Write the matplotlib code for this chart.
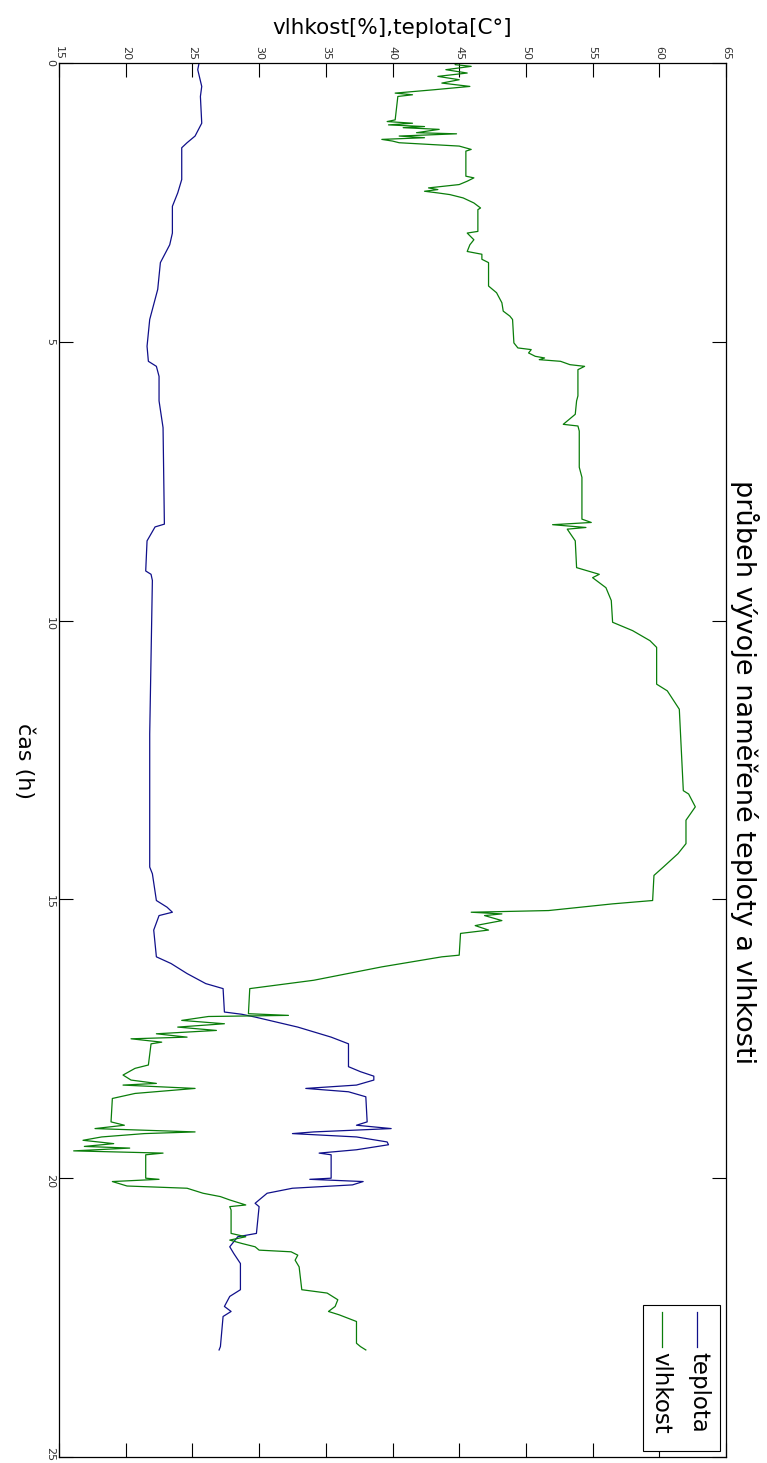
import matplotlib
matplotlib.use("Agg")
import matplotlib.pyplot as plt
import matplotlib.transforms as mtransforms
from matplotlib.patches import Rectangle
from matplotlib.lines import Line2D

plt.rcParams['font.family'] = ['DejaVu Sans']

# time axis (h) and temperature reading
t_teplota = [0.00, 0.12, 0.42, 0.60, 1.08, 1.31, 1.43, 1.52, 2.09, 2.33, 2.57, 3.05, 3.26, 3.58,
             4.06, 4.60, 5.08, 5.35, 5.44, 5.62, 6.06, 6.54, 8.27, 8.32, 8.57, 9.11, 9.17, 9.28,
             12.03, 14.42, 14.54, 15.02, 15.14, 15.23, 15.29, 15.55, 16.03, 16.15, 16.33, 16.51,
             16.60, 17.02, 17.06, 17.11, 17.29, 17.47, 17.59, 18.00, 18.09, 18.17, 18.24, 18.33,
             18.39, 18.45, 18.54, 18.99, 19.05, 19.11, 19.17, 19.20, 19.26, 19.35, 19.40, 19.49,
             19.55, 19.58, 20.00, 20.02, 20.06, 20.12, 20.18, 20.27, 20.39, 20.45, 20.51, 20.99,
             21.05, 21.14, 21.23, 21.35, 21.53, 22.00, 22.12, 22.30, 22.39, 22.48, 23.02, 23.08]
teplota = [25.5, 25.4, 25.7, 25.6, 25.7, 25.2, 24.6, 24.2, 24.2, 23.9, 23.5, 23.5, 23.3, 22.6,
           22.4, 21.8, 21.6, 21.7, 22.3, 22.5, 22.5, 22.8, 22.9, 22.2, 21.6, 21.5, 21.9, 22.0,
           21.8, 21.8, 22.0, 22.3, 23.1, 23.5, 22.5, 22.1, 22.3, 23.4, 24.6, 26.0,
           27.3, 27.4, 28.7, 29.7, 32.9, 35.4, 36.7, 36.7, 37.6, 38.6, 38.6, 37.3,
           33.5, 36.7, 38.0, 38.1, 37.3, 39.9, 34.1, 32.5, 37.3, 39.6, 39.7, 37.3,
           34.5, 35.4, 35.4, 33.8, 37.8, 37.0, 32.5, 30.6, 30.0, 29.7, 30.0, 29.8,
           28.4, 28.1, 27.8, 28.1, 28.6, 28.6, 27.8, 27.4, 27.9, 27.3, 27.1, 27.0]

# time axis (h) and humidity reading
t_vlhkost = [0.00, 0.03, 0.06, 0.12, 0.18, 0.24, 0.30, 0.36, 0.42, 0.48, 0.54, 0.57, 0.60, 1.02,
             1.05, 1.08, 1.11, 1.14, 1.16, 1.19, 1.25, 1.27, 1.31, 1.34, 1.37, 1.40, 1.43, 1.49,
             1.55, 1.58, 2.03, 2.06, 2.12, 2.18, 2.24, 2.27, 2.30, 2.33, 2.36, 2.42, 2.51, 2.60,
             2.63, 3.02, 3.05, 3.17, 3.26, 3.38, 3.43, 3.52, 3.58, 4.00, 4.12, 4.30, 4.45, 4.54,
             4.60, 5.02, 5.11, 5.14, 5.20, 5.26, 5.29, 5.32, 5.35, 5.41, 5.44, 5.50, 5.97, 6.06,
             6.30, 6.48, 6.51, 6.60, 7.25, 7.43, 8.18, 8.24, 8.28, 8.33, 8.36, 8.57, 9.05, 9.17,
             9.23, 9.41, 9.64, 10.03, 10.18, 10.36, 10.48, 11.14, 11.26, 11.59, 12.09, 13.05,
             13.11, 13.34, 13.58, 14.00, 14.18, 14.42, 14.57, 15.02, 15.08, 15.20, 15.23, 15.26,
             15.29, 15.38, 15.47, 15.55, 15.61, 16.00, 16.03, 16.21, 16.45, 16.60, 17.05, 17.08,
             17.10, 17.17, 17.23, 17.29, 17.35, 17.41, 17.47, 17.50, 17.56, 17.59, 17.97, 18.03,
             18.15, 18.24, 18.30, 18.33, 18.39, 18.48, 18.57, 18.99, 19.05, 19.11, 19.17, 19.20,
             19.26, 19.32, 19.38, 19.43, 19.46, 19.51, 19.55, 19.58, 20.00, 20.02, 20.06, 20.14,
             20.18, 20.27, 20.33, 20.39, 20.48, 20.51, 20.57, 20.99, 21.05, 21.11, 21.17, 21.23,
             21.29, 21.32, 21.38, 21.47, 21.59, 22.00, 22.06, 22.18, 22.30, 22.39, 22.45, 22.57,
             22.96, 23.02, 23.08]
vlhkost = [44.7, 44.7, 45.9, 44.0, 45.6, 43.4, 45.0, 43.7, 45.8, 43.1, 40.2, 41.5, 40.4, 40.2,
           39.6, 41.5, 39.7, 42.4, 40.8, 43.5, 41.8, 44.8, 40.5, 42.4, 39.2, 40.0, 40.5, 45.0,
           45.9, 45.5, 45.5, 46.1, 45.6, 45.0, 42.7, 43.4, 42.4, 43.4, 44.3, 45.3, 46.1, 46.6,
           46.4, 46.4, 45.6, 46.1, 45.8, 45.6, 46.7, 46.7, 47.2, 47.2, 47.8, 48.2, 48.3, 48.8,
           49.0, 49.1, 49.4, 50.4, 50.2, 50.7, 51.4, 51.0, 52.6, 53.3, 54.4, 53.9, 53.9, 53.8,
           53.7, 52.8, 53.9, 54.0, 54.0, 54.2, 54.2, 54.9, 52.0, 54.5, 53.1, 53.7, 53.8, 55.5,
           55.0, 56.0, 56.4, 56.5, 58.0, 59.3, 59.8, 59.8, 60.6, 61.5, 61.6, 61.8,
           62.2, 62.7, 62.0, 62.0, 61.4, 60.3, 59.6, 59.5, 56.5, 51.7, 45.9, 48.2,
           46.9, 48.2, 46.2, 47.2, 45.1, 45.0, 43.7, 39.2, 34.1, 29.3, 29.2, 32.2,
           26.2, 24.2, 27.4, 23.9, 26.8, 22.3, 24.6, 20.4, 22.7, 21.9, 21.7, 20.7,
           19.8, 20.4, 22.3, 19.8, 25.2, 20.7, 19.0, 18.9, 19.9, 17.7, 25.2, 21.4,
           18.2, 16.8, 19.1, 16.9, 20.3, 16.1, 22.8, 21.5, 21.5, 22.5, 19.0, 20.1,
           24.6, 25.8, 27.1, 27.8, 29.0, 27.8, 27.9, 27.9, 29.0, 27.8, 28.7, 29.7,
           30.0, 32.4, 32.9, 32.7, 33.0, 33.2, 35.1, 35.9, 35.7, 35.2, 36.0, 37.3,
           37.3, 37.6, 38.0]

value_ticks = list(range(15, 66, 5))
time_ticks = list(range(0, 26, 5))

W, H = 767, 1463
fig = plt.figure(figsize=(W / 100, H / 100), dpi=100)
ax = fig.add_axes([59 / W, (H - 1457) / H, 667 / W, (1457 - 63) / H])

# chart is drawn rotated: time runs downwards, values left to right
ax.plot(teplota, t_teplota, color='#10108a', lw=0.9)
ax.plot(vlhkost, t_vlhkost, color='#0a7d0a', lw=0.9)

ax.set_xlim(15, 65)
ax.set_ylim(25, 0)
ax.set_xticks(value_ticks)
ax.set_yticks(time_ticks)
ax.tick_params(top=True, bottom=True, left=True, right=True,
               labeltop=True, labelbottom=False, direction='in',
               length=10, width=0.8, labelsize=8, labelcolor='#333333')
ax.tick_params(axis='x', labelrotation=-90, pad=2)
ax.tick_params(axis='y', labelrotation=-90, pad=3)
for s in ax.spines.values():
    s.set_linewidth(0.9)

# last time label sits at the very bottom edge, lift it a little
last = ax.get_yticklabels()[-1]
last.set_transform(last.get_transform() + mtransforms.ScaledTranslation(0, 4 / 72, fig.dpi_scale_trans))

fig.text(392 / W, 1 - 28 / H, 'vlhkost[%],teplota[C°]', ha='center', va='center', fontsize=15.5)
fig.text(24 / W, 1 - 761 / H, 'čas (h)', rotation=-90, ha='center', va='center', fontsize=16)
fig.text(745 / W, 1 - 772 / H, 'průbeh vývoje naměřené teploty a vlhkosti',
         rotation=-90, ha='center', va='center', fontsize=19.5)

# legend, rotated by hand
fig.patches.append(Rectangle((643 / W, 1 - 1451 / H), 77 / W, 146 / H, transform=fig.transFigure,
                             facecolor='white', edgecolor='black', lw=0.8, zorder=5))
fig.lines.append(Line2D([697 / W, 697 / W], [1 - 1312 / H, 1 - 1347 / H], transform=fig.transFigure,
                        color='#10108a', lw=0.9, zorder=6))
fig.lines.append(Line2D([662 / W, 662 / W], [1 - 1312 / H, 1 - 1347 / H], transform=fig.transFigure,
                        color='#0a7d0a', lw=0.9, zorder=6))
fig.text(699 / W, 1 - 1352 / H, 'teplota', rotation=-90, ha='center', va='top', fontsize=16.5, zorder=7)
fig.text(661 / W, 1 - 1352 / H, 'vlhkost', rotation=-90, ha='center', va='top', fontsize=16.5, zorder=7)

fig.savefig('out.png', dpi=100)
